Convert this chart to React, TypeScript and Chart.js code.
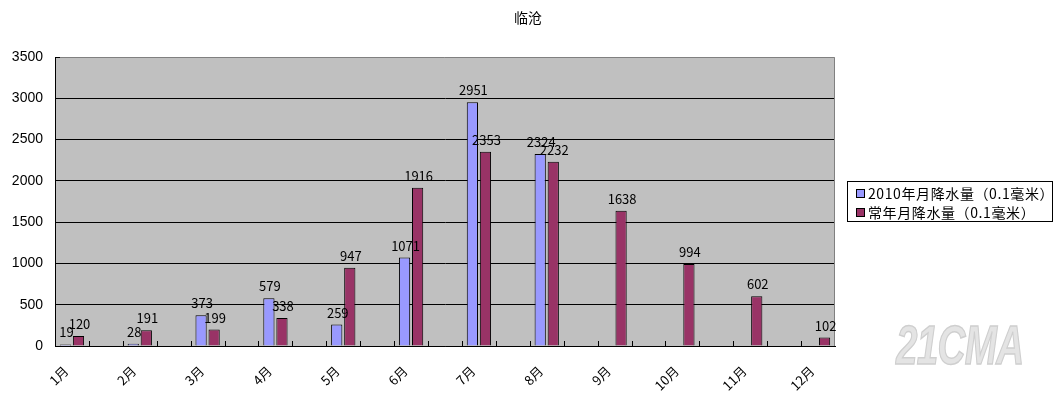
import React, { useEffect, useRef } from 'react';
import { Chart, registerables } from 'chart.js';

Chart.register(...registerables);

const months = ['1月', '2月', '3月', '4月', '5月', '6月', '7月', '8月', '9月', '10月', '11月', '12月'];
const rain2010: (number | null)[] = [19, 28, 373, 579, 259, 1071, 2951, 2324, null, null, null, null];
const rainNormal: (number | null)[] = [120, 191, 199, 338, 947, 1916, 2353, 2232, 1638, 994, 602, 102];
const seriesNames = ['2010年月降水量（0.1毫米）', '常年月降水量（0.1毫米）'];
const seriesColors = ['#9999FF', '#993366'];
const titleText = '临沧';
const yMin = 0;
const yMax = 3500;
const yStep = 500;

// Excel layout: a blank category between every month
const categories: string[] = [];
const data2010: (number | null)[] = [];
const dataNormal: (number | null)[] = [];
months.forEach((m, i) => {
  categories.push(m);
  data2010.push(rain2010[i]);
  dataNormal.push(rainNormal[i]);
  if (i < months.length - 1) {
    categories.push('');
    data2010.push(null);
    dataNormal.push(null);
  }
});

const CJK = '"Noto Sans CJK SC", "Noto Sans", sans-serif';

const decorPlugin = {
  id: 'decor',
  beforeDraw(chart: any) {
    const { ctx, chartArea } = chart;
    ctx.save();
    ctx.fillStyle = '#C0C0C0';
    ctx.fillRect(chartArea.left, chartArea.top, chartArea.right - chartArea.left, chartArea.bottom - chartArea.top);
    ctx.restore();
  },
  afterDraw(chart: any) {
    const { ctx, chartArea } = chart;
    const xs = chart.scales.x;
    ctx.save();
    // gray border top/right
    ctx.strokeStyle = '#808080';
    ctx.lineWidth = 1;
    ctx.beginPath();
    ctx.moveTo(chartArea.left, chartArea.top + 0.5);
    ctx.lineTo(chartArea.right - 0.5, chartArea.top + 0.5);
    ctx.lineTo(chartArea.right - 0.5, chartArea.bottom);
    ctx.stroke();
    // inner ticks
    ctx.strokeStyle = '#000';
    ctx.beginPath();
    ctx.moveTo(chartArea.left, chartArea.top + 0.5);
    ctx.lineTo(chartArea.left + 5, chartArea.top + 0.5);
    const n = categories.length;
    for (let i = 1; i < n; i++) {
      const x = Math.round((xs.getPixelForTick(i - 1) + xs.getPixelForTick(i)) / 2) + 0.5;
      ctx.moveTo(x, chartArea.bottom);
      ctx.lineTo(x, chartArea.bottom - 5);
    }
    ctx.stroke();
    // data labels
    ctx.fillStyle = '#000';
    ctx.font = '13px ' + CJK;
    ctx.textAlign = 'center';
    ctx.textBaseline = 'alphabetic';
    chart.data.datasets.forEach((ds: any, di: number) => {
      const meta = chart.getDatasetMeta(di);
      meta.data.forEach((el: any, j: number) => {
        const v = ds.data[j];
        if (v === null || v === undefined) return;
        ctx.fillText(String(v), el.x + 1, el.y - 7);
      });
    });
    ctx.restore();
  },
};

export default function App() {
  const ref = useRef<HTMLCanvasElement | null>(null);
  useEffect(() => {
    if (!ref.current) return;
    const chart = new Chart(ref.current, {
      type: 'bar',
      data: {
        labels: categories,
        datasets: [
          {
            label: seriesNames[0],
            data: data2010,
            backgroundColor: seriesColors[0],
            borderColor: '#000',
            borderWidth: 1,
            categoryPercentage: 0.77,
            barPercentage: 0.86,
          },
          {
            label: seriesNames[1],
            data: dataNormal,
            backgroundColor: seriesColors[1],
            borderColor: '#000',
            borderWidth: 1,
            categoryPercentage: 0.77,
            barPercentage: 0.86,
          },
        ],
      },
      options: {
        responsive: false,
        animation: false,
        devicePixelRatio: 1,
        layout: { padding: { top: 57, right: 221, left: 0, bottom: 0 } },
        plugins: {
          legend: { display: false },
          title: { display: false },
          tooltip: { enabled: false },
        },
        scales: {
          x: {
            afterFit: (s: any) => { s.height = 55; },
            grid: { display: false, drawTicks: false },
            border: { display: true, color: '#000', width: 1 },
            ticks: {
              autoSkip: false,
              maxRotation: 45,
              minRotation: 45,
              padding: 17,
              labelOffset: -6,
              color: '#000',
              font: { family: CJK, size: 13 },
            },
          },
          y: {
            min: yMin,
            max: yMax,
            afterFit: (s: any) => { s.width = 55; },
            grid: {
              drawTicks: false,
              color: (c: any) => (c.tick && c.tick.value === yMax ? 'rgba(0,0,0,0)' : '#000'),
              lineWidth: 1,
            },
            border: { display: true, color: '#000', width: 1 },
            ticks: {
              stepSize: yStep,
              padding: 12,
              color: '#000',
              callback: (v: any) => String(v),
              font: { family: '"Liberation Sans", Arial, sans-serif', size: 14 },
            },
          },
        },
      },
      plugins: [decorPlugin],
    } as any);
    return () => chart.destroy();
  }, []);

  return (
    <div style={{ position: 'absolute', left: 0, top: 0, width: 1056, height: 401, background: '#fff', overflow: 'hidden' }}>
      <canvas ref={ref} width={1056} height={401} style={{ position: 'absolute', left: 0, top: 0 }} />
      <div style={{ position: 'absolute', left: 0, width: 1056, top: 7, textAlign: 'center', fontFamily: CJK, fontSize: 14, lineHeight: '20px', color: '#000' }}>
        {titleText}
      </div>
      <div
        style={{
          position: 'absolute', left: 847, top: 181, width: 204, height: 39,
          border: '1px solid #000', background: '#fff', fontFamily: CJK, fontSize: 14, color: '#000',
        }}
      >
        {seriesNames.map((name, i) => (
          <div key={name} style={{ position: 'absolute', left: 8, top: 2 + i * 19, height: 19, display: 'flex', alignItems: 'center', whiteSpace: 'nowrap' }}>
            <span style={{ display: 'inline-block', width: 7, height: 7, background: seriesColors[i], border: '1px solid #000', marginRight: 3 }} />
            <span style={{ lineHeight: '19px', letterSpacing: 0.6 }}>{name}</span>
          </div>
        ))}
      </div>
      <div
        style={{
          position: 'absolute', left: 896, top: 310, fontFamily: '"Liberation Sans", Arial, sans-serif', fontWeight: 'bold', fontStyle: 'italic',
          fontSize: 56, lineHeight: '70px', color: '#e4e4e4', WebkitTextStroke: '1.5px #cfcfcf', transform: 'scaleX(0.69)', transformOrigin: 'left top',
          letterSpacing: -1,
        }}
      >
        21CMA
      </div>
    </div>
  );
}
